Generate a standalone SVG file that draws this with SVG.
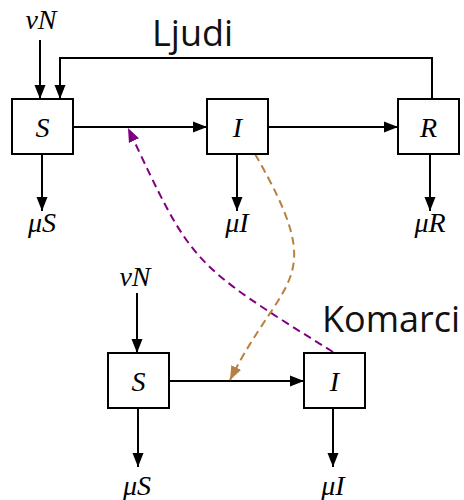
<svg xmlns="http://www.w3.org/2000/svg" width="464" height="500" viewBox="0 0 464 500">
<style>
  .box { fill: #ffffff; stroke: #000000; stroke-width: 2; }
  .ln { fill: none; stroke: #000000; stroke-width: 2; }
  .math { font-family: "Liberation Serif", "DejaVu Serif", serif; font-style: italic; font-size: 28px; fill: #000000; text-anchor: middle; }
  .title { font-family: "Open Sans", "Noto Sans", sans-serif; font-size: 36px; fill: #111111; }
  .pur { fill: none; stroke: #800080; stroke-width: 2; stroke-dasharray: 8 5; }
  .brn { fill: none; stroke: #B8803F; stroke-width: 2; stroke-dasharray: 8 5; }
</style>
<defs>
  <marker id="ah" markerUnits="userSpaceOnUse" markerWidth="14" markerHeight="12" refX="14" refY="6" orient="auto">
    <path d="M0,0.5 L14,6 L0,11.5 z" fill="#000000" stroke="none"/>
  </marker>
  <marker id="ahp" markerUnits="userSpaceOnUse" markerWidth="14" markerHeight="12" refX="14" refY="6" orient="auto">
    <path d="M0,0.5 L14,6 L0,11.5 z" fill="#800080" stroke="none"/>
  </marker>
  <marker id="ahb" markerUnits="userSpaceOnUse" markerWidth="14" markerHeight="12" refX="14" refY="6" orient="auto">
    <path d="M0,0.5 L14,6 L0,11.5 z" fill="#B8803F" stroke="none"/>
  </marker>
</defs>

<g id="connectors">
  <path class="ln" d="M40,40 V99" marker-end="url(#ah)"/>
  <path class="ln" d="M432,99 V58 H60 V99" marker-end="url(#ah)"/>
  <path class="ln" d="M73,127 H207" marker-end="url(#ah)"/>
  <path class="ln" d="M268,127 H398" marker-end="url(#ah)"/>
  <path class="ln" d="M42,154 V211" marker-end="url(#ah)"/>
  <path class="ln" d="M237,154 V211" marker-end="url(#ah)"/>
  <path class="ln" d="M430,154 V211" marker-end="url(#ah)"/>
  <path class="ln" d="M137,293 V353" marker-end="url(#ah)"/>
  <path class="ln" d="M169,381 H304" marker-end="url(#ah)"/>
  <path class="ln" d="M138,408 V467" marker-end="url(#ah)"/>
  <path class="ln" d="M333,408 V467" marker-end="url(#ah)"/>
  <path class="pur" d="M333,352 C188.5,262 192,264 128,128" marker-end="url(#ahp)"/>
  <path class="brn" d="M255,154 C330,284 283.6,272.7 230,380" marker-end="url(#ahb)"/>
</g>

<g id="labels">
  <text class="math" x="41" y="29">νN</text>
  <text class="math" x="42" y="232">μS</text>
  <text class="math" x="237" y="232">μI</text>
  <text class="math" x="430" y="232">μR</text>
  <text class="math" x="135" y="286">νN</text>
  <text class="math" x="137" y="495">μS</text>
  <text class="math" x="333" y="495">μI</text>
  <text class="title" x="152" y="46">Ljudi</text>
  <text class="title" x="322" y="332">Komarci</text>
</g>

<g id="human-S"><rect class="box" x="12" y="99" width="61" height="55"/><text class="math" x="42.5" y="137">S</text></g>
<g id="human-I"><rect class="box" x="207" y="99" width="61" height="55"/><text class="math" x="237.5" y="137">I</text></g>
<g id="human-R"><rect class="box" x="398" y="99" width="61" height="55"/><text class="math" x="428.5" y="137">R</text></g>
<g id="mosq-S"><rect class="box" x="108" y="353" width="61" height="55"/><text class="math" x="138.5" y="391">S</text></g>
<g id="mosq-I"><rect class="box" x="304" y="353" width="61" height="55"/><text class="math" x="334.5" y="391">I</text></g>
</svg>
